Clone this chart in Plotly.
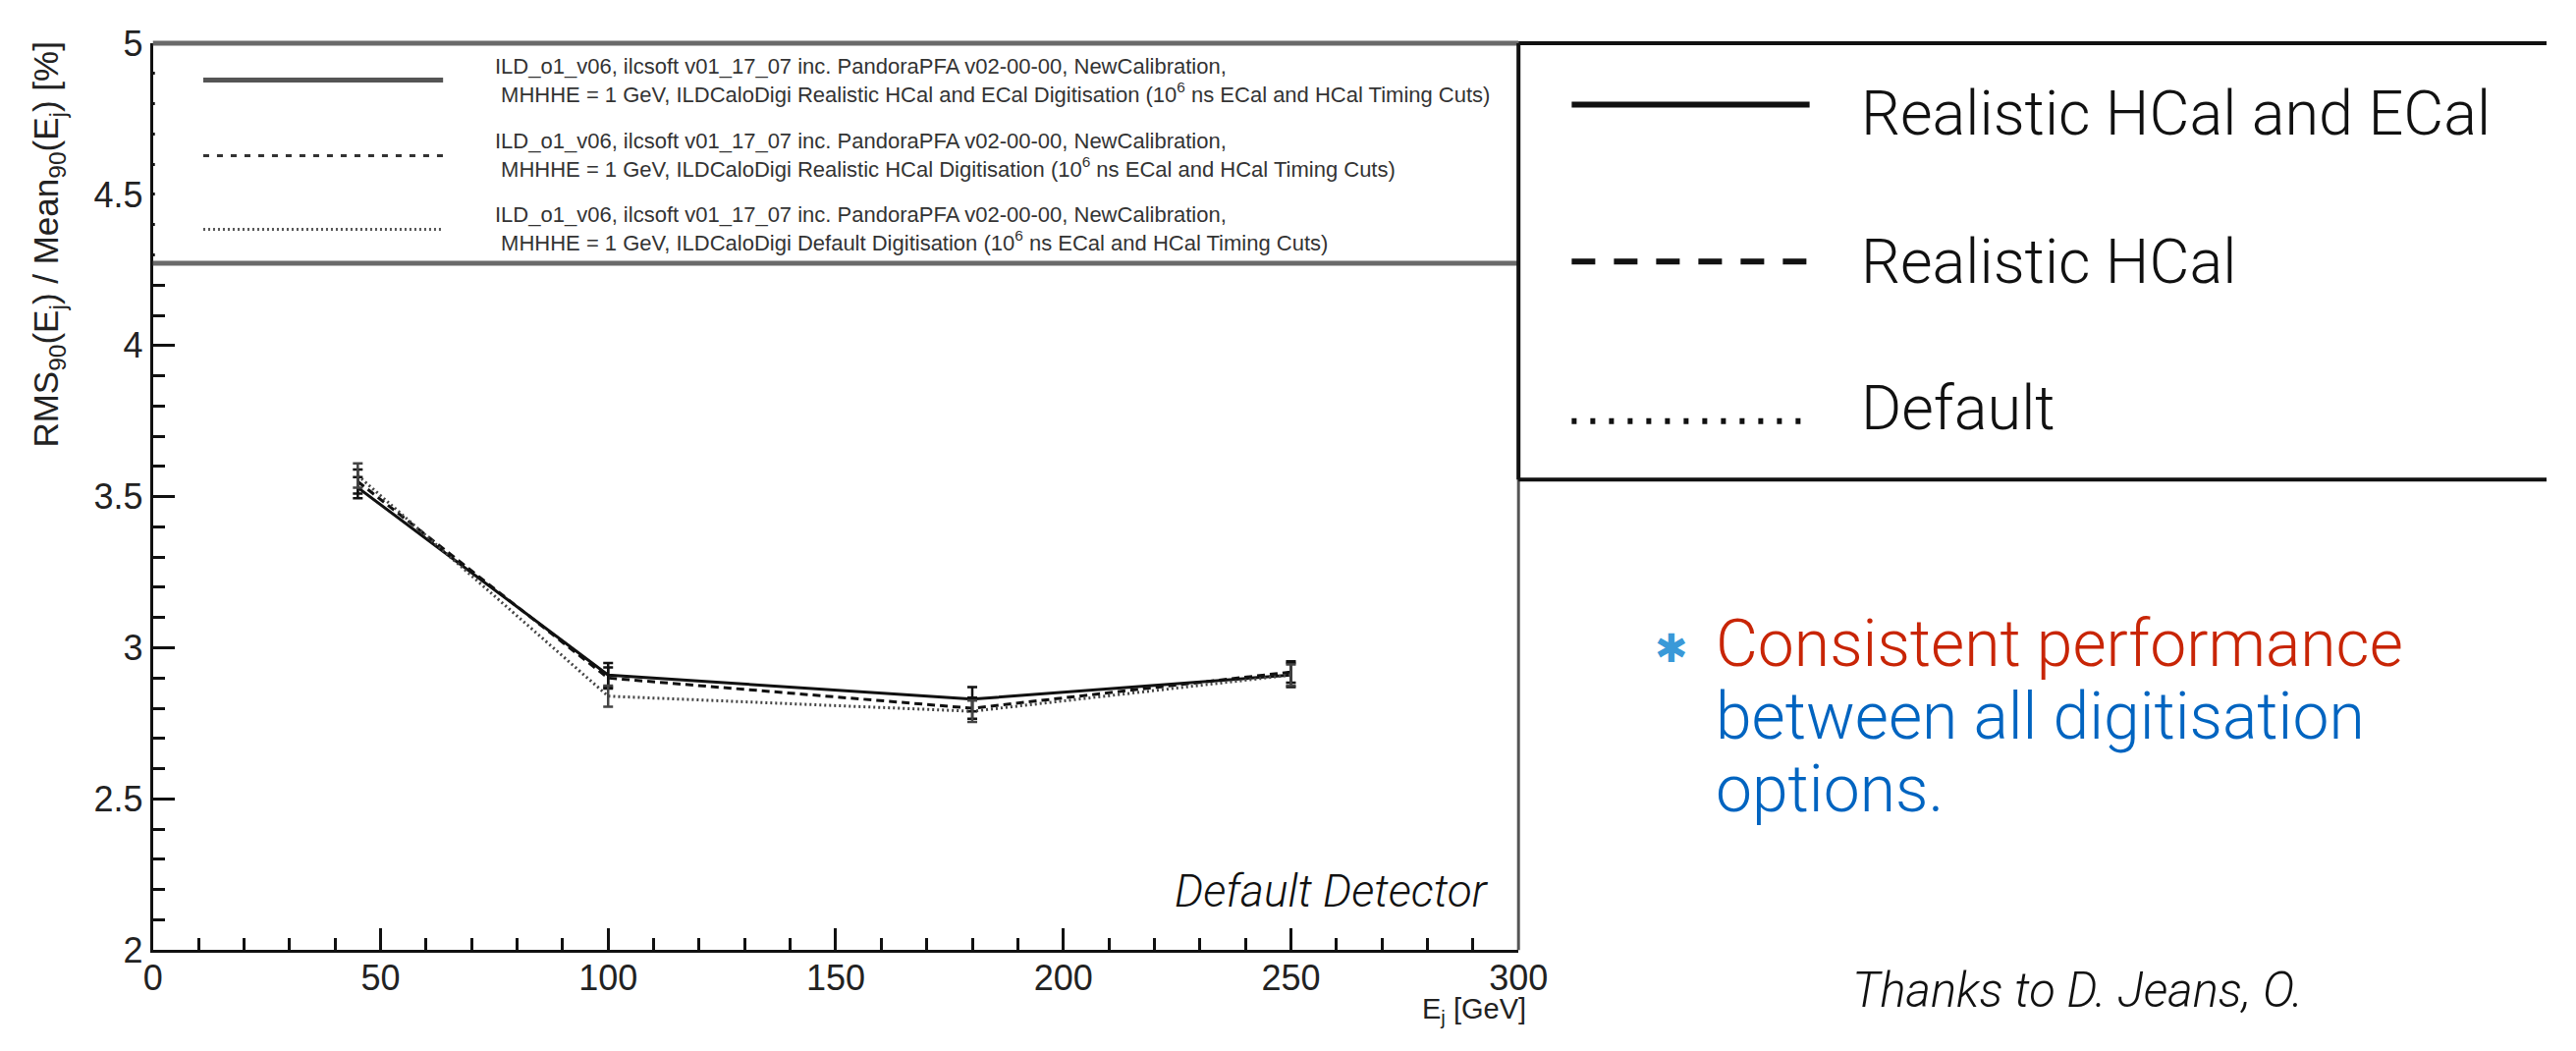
import plotly.graph_objects as go

# ---- data: jet energy resolution vs jet energy ----
jet_energy = [45, 100, 180, 250]

res_hcal_ecal = [3.53, 2.91, 2.83, 2.91]
err_hcal_ecal = [0.035, 0.04, 0.04, 0.04]

res_hcal = [3.55, 2.90, 2.80, 2.92]
err_hcal = [0.04, 0.035, 0.035, 0.035]

res_default = [3.57, 2.84, 2.79, 2.91]
err_default = [0.04, 0.035, 0.035, 0.035]

long_labels = [
    "ILD_o1_v06, ilcsoft v01_17_07 inc. PandoraPFA v02-00-00, NewCalibration,<br>"
    " MHHHE = 1 GeV, ILDCaloDigi Realistic HCal and ECal Digitisation (10<sup>6</sup> ns ECal and HCal Timing Cuts)",
    "ILD_o1_v06, ilcsoft v01_17_07 inc. PandoraPFA v02-00-00, NewCalibration,<br>"
    " MHHHE = 1 GeV, ILDCaloDigi Realistic HCal Digitisation (10<sup>6</sup> ns ECal and HCal Timing Cuts)",
    "ILD_o1_v06, ilcsoft v01_17_07 inc. PandoraPFA v02-00-00, NewCalibration,<br>"
    " MHHHE = 1 GeV, ILDCaloDigi Default Digitisation (10<sup>6</sup> ns ECal and HCal Timing Cuts)",
]
short_labels = ["Realistic HCal and ECal", "Realistic HCal", "Default"]

# ---- page geometry (pixels) ----
W, H = 2623, 1070
X0, X1 = 148, 1560      # plot frame left / right
Y_TOP, Y_BOT = 25, 985  # plot frame top / bottom


def px(x):
    return x / W


def py(y):
    return 1 - y / H


fig = go.Figure()

series = [
    (res_hcal_ecal, err_hcal_ecal, "solid", "#111111"),
    (res_hcal, err_hcal, "8px,5px", "#111111"),
    (res_default, err_default, "2px,3px", "#444444"),
]
for (vals, errs, dash, col), name in zip(series, short_labels):
    fig.add_trace(go.Scatter(
        x=jet_energy, y=vals, name=name, mode="lines",
        line=dict(color=col, width=3, dash=dash),
        error_y=dict(type="data", array=errs, visible=True,
                     color=col, thickness=2.5, width=5),
        showlegend=False,
    ))

axis_font = dict(family="Liberation Sans, Arial, sans-serif", size=36, color="#222222")

fig.update_xaxes(
    range=[0, 300], domain=[px(X0), px(X1)],
    showgrid=False, zeroline=False,
    showline=True, linecolor="#111111", linewidth=3,
    ticks="inside", ticklen=22, tickwidth=3, tickcolor="#111111",
    tick0=0, dtick=50, ticklabelstandoff=-5,
    minor=dict(ticks="inside", ticklen=12, tickwidth=3, tickcolor="#111111", dtick=10),
    tickfont=axis_font,
)
fig.update_yaxes(
    range=[2, 5], domain=[py(Y_BOT), py(Y_TOP)],
    showgrid=False, zeroline=False,
    showline=True, linecolor="#111111", linewidth=3,
    ticks="inside", ticklen=22, tickwidth=3, tickcolor="#111111",
    tick0=2, dtick=0.5,
    minor=dict(ticks="inside", ticklen=12, tickwidth=3, tickcolor="#111111", dtick=0.1),
    tickfont=axis_font,
)

shapes = []
# right side of plot frame
shapes.append(dict(type="line", xref="paper", yref="paper",
                   x0=px(X1), x1=px(X1), y0=py(Y_TOP), y1=py(Y_BOT),
                   line=dict(color="#555555", width=3), layer="above"))

# in-plot legend box (white fill, grey top/bottom borders)
LEG_BOT = 258
shapes.append(dict(type="rect", xref="paper", yref="paper",
                   x0=px(X0 + 2), x1=px(X1 - 2), y0=py(LEG_BOT), y1=py(Y_TOP),
                   fillcolor="white", line=dict(width=0), layer="above"))
for yy in (Y_TOP, LEG_BOT):
    shapes.append(dict(type="line", xref="paper", yref="paper",
                       x0=px(X0), x1=px(X1), y0=py(yy), y1=py(yy),
                       line=dict(color="#6a6a6a", width=5), layer="above"))

leg_rows = [64, 144, 222]
leg_styles = [("solid", "#555555", 5), ("6px,8px", "#333333", 3), ("2px,3px", "#555555", 3)]
for yy, (dash, col, wd) in zip(leg_rows, leg_styles):
    shapes.append(dict(type="line", xref="paper", yref="paper",
                       x0=px(200), x1=px(448), y0=py(yy), y1=py(yy),
                       line=dict(color=col, width=wd, dash=dash), layer="above"))

# right-hand legend box
BOX_BOT = 487
shapes.append(dict(type="line", xref="paper", yref="paper",
                   x0=px(X1), x1=1, y0=py(Y_TOP), y1=py(Y_TOP),
                   line=dict(color="#111111", width=4)))
shapes.append(dict(type="line", xref="paper", yref="paper",
                   x0=px(X1), x1=1, y0=py(BOX_BOT), y1=py(BOX_BOT),
                   line=dict(color="#111111", width=4)))
shapes.append(dict(type="line", xref="paper", yref="paper",
                   x0=px(X1), x1=px(X1), y0=py(Y_TOP), y1=py(BOX_BOT),
                   line=dict(color="#111111", width=4)))

box_rows = [90, 256, 425]
box_styles = ["solid", "24px,19px", "5px,14px"]
for yy, dash in zip(box_rows, box_styles):
    shapes.append(dict(type="line", xref="paper", yref="paper",
                       x0=px(1615), x1=px(1861), y0=py(yy), y1=py(yy),
                       line=dict(color="#111111", width=6, dash=dash)))

fig.update_layout(shapes=shapes)

ann = []
leg_font = dict(family="Liberation Sans Narrow, Arial Narrow, Liberation Sans, sans-serif",
                size=22, color="#333333")
for yy, txt in zip(leg_rows, long_labels):
    ann.append(dict(xref="paper", yref="paper", x=px(500), y=py(yy),
                    xanchor="left", yanchor="middle", align="left",
                    text=txt, showarrow=False, font=leg_font))

# axis titles
ann.append(dict(xref="paper", yref="paper", x=px(40), y=py(20),
                xanchor="center", yanchor="top", textangle=-90,
                text="RMS<sub>90</sub>(E<sub>j</sub>) / Mean<sub>90</sub>(E<sub>j</sub>) [%]",
                showarrow=False, font=dict(family="Liberation Sans, Arial, sans-serif",
                                           size=35, color="#222222")))
ann.append(dict(xref="paper", yref="paper", x=px(1570), y=0,
                xanchor="right", yanchor="bottom",
                text="E<sub>j</sub> [GeV]", showarrow=False,
                font=dict(family="Liberation Sans, Arial, sans-serif", size=29, color="#222222")))

keynote = "Roboto, Helvetica Neue, Liberation Sans, sans-serif"
ann.append(dict(xref="paper", yref="paper", x=px(1531), y=py(922),
                xanchor="right", yanchor="middle", text="Default Detector",
                showarrow=False,
                font=dict(family=keynote, size=46, color="#111111", weight=300, style="italic")))

# right-hand legend text
for yy, txt in zip([99, 256, 411], short_labels):
    ann.append(dict(xref="paper", yref="paper", x=px(1912), y=py(yy),
                    xanchor="left", yanchor="middle", text=txt, showarrow=False,
                    font=dict(family=keynote, size=63, color="#111111", weight=300)))

# bullet text
ann.append(dict(xref="paper", yref="paper", x=px(1718), y=py(665),
                xanchor="center", yanchor="middle", text="✱", showarrow=False,
                font=dict(family="DejaVu Sans, sans-serif", size=40, color="#3a99d8")))
bullet_lines = [("Consistent performance", "#c82506", 661),
                ("between all digitisation", "#0064c0", 738),
                ("options.", "#0064c0", 815)]
for txt, col, yy in bullet_lines:
    ann.append(dict(xref="paper", yref="paper", x=px(1762), y=py(yy),
                    xanchor="left", yanchor="middle", text=txt, showarrow=False,
                    font=dict(family=keynote, size=66, color=col, weight=300)))

ann.append(dict(xref="paper", yref="paper", x=px(1903), y=py(1028),
                xanchor="left", yanchor="middle", text="Thanks to D. Jeans, O.",
                showarrow=False,
                font=dict(family=keynote, size=49, color="#111111", weight=300, style="italic")))

fig.update_layout(
    annotations=ann,
    width=W, height=H, autosize=False,
    margin=dict(l=0, r=0, t=0, b=0),
    paper_bgcolor="white", plot_bgcolor="white",
    showlegend=False,
)

fig.write_html("out.html")
